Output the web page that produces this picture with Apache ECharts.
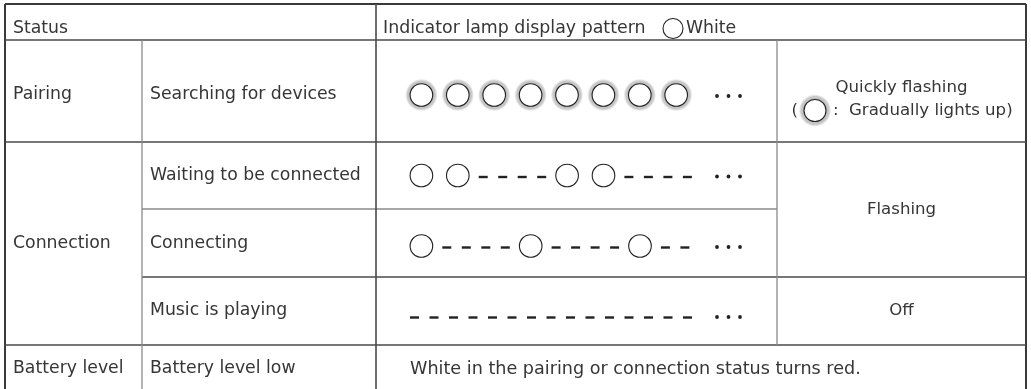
<!DOCTYPE html>
<html><head><meta charset="utf-8">
<script src="https://cdn.jsdelivr.net/npm/echarts@6/dist/echarts.min.js"></script>
<style>html,body{margin:0;padding:0;background:#fff}#c{width:1031px;height:389px}</style>
</head><body><div id="c"></div>
<script>
// ---------------- data ----------------
const headerTitles = ['Status', 'Indicator lamp display pattern', 'White'];
const groups = ['Pairing', 'Connection', 'Battery level'];
const groupRowSpans = [[1, 1], [2, 4], [5, 5]];
const states = ['Searching for devices', 'Waiting to be connected', 'Connecting', 'Music is playing', 'Battery level low'];
// G = lamp gradually lighting up, O = lamp on, - = lamp off (short interval)
const patterns = ['GGGGGGGG', 'OO----OO----', 'O----O----O--', '---------------'];
const notes = ['Quickly flashing', 'Flashing', 'Off'];
const noteRowSpans = [[1, 1], [2, 3], [4, 4]];
const gradualNote = 'Gradually lights up)';
const batteryNote = 'White in the pairing or connection status turns red.';

// ---------------- layout ----------------
const W = 1031, H = 389;
const colX = [5, 142, 376, 777, 1026];
const rowY = [4, 40, 142, 209, 277, 345, 395];
const textY = [28.5, 95, 175.5, 244, 311, 369];
const patternY = [95, 175.5, 246, 316];
// pattern axis: offsets (px-like units) from the start of the pattern area
const PAT_X0 = 403, PAT_SPAN = 300, ELLIPSIS_AT = 325.5;
const LEAD = {lamp: 18.4, dash: 11.5};
const STEP = {lamplamp: 36.4, lampdash: 25.4, dashlamp: 25.4, dashdash: 19.5};
const FONT = 'DejaVu Sans', INK = '#222', TXT = '#363636';
const LINE_STYLE = {outer: {c: '#3a3a3a', w: 2}, major: {c: '#4a4a4a', w: 1.6}, minor: {c: '#8a8a8a', w: 1.3}};

const segs = [
  [colX[0], rowY[0], colX[4], rowY[0], 'outer'],
  [colX[0], rowY[0], colX[0], rowY[6], 'outer'],
  [colX[4], rowY[0], colX[4], rowY[6], 'outer'],
  [colX[0], rowY[1], colX[4], rowY[1], 'major'],
  [colX[0], rowY[2], colX[4], rowY[2], 'major'],
  [colX[1], rowY[3], colX[3], rowY[3], 'minor'],
  [colX[1], rowY[4], colX[4], rowY[4], 'major'],
  [colX[0], rowY[5], colX[4], rowY[5], 'major'],
  [colX[1], rowY[1], colX[1], rowY[6], 'minor'],
  [colX[2], rowY[0], colX[2], rowY[6], 'major'],
  [colX[3], rowY[1], colX[3], rowY[5], 'minor']
];

const texts = [];
texts.push({t: headerTitles[0], x: colX[0] + 8, y: textY[0], a: 'left', s: 17.3});
texts.push({t: headerTitles[1], x: colX[2] + 7, y: textY[0], a: 'left', s: 17.4});
texts.push({t: headerTitles[2], x: 686, y: textY[0], a: 'left', s: 17.3});
groups.forEach((g, i) => {
  const sp = groupRowSpans[i];
  const y = sp[0] === sp[1] ? textY[sp[0]] : (rowY[sp[0]] + rowY[sp[1] + 1]) / 2;
  texts.push({t: g, x: colX[0] + 8, y: y, a: 'left', s: 17.3});
});
states.forEach((s, i) => texts.push({t: s, x: colX[1] + 8, y: textY[i + 1], a: 'left', s: 17.3}));
notes.forEach((n, i) => {
  const sp = noteRowSpans[i];
  let y = (rowY[sp[0]] + rowY[sp[1] + 1]) / 2;
  if (i === 0) y = 88;
  texts.push({t: n, x: (colX[3] + colX[4]) / 2, y: y, a: 'center', s: 16.6});
});
texts.push({t: '(', x: 798, y: 110.5, a: 'right', s: 16.6});
texts.push({t: ':', x: 833, y: 110.5, a: 'left', s: 16.6});
texts.push({t: gradualNote, x: 849, y: 110.5, a: 'left', s: 16.6});
texts.push({t: batteryNote, x: 410, y: textY[5], a: 'left', s: 17.6});

// stand-alone lamps in the legend / note
const lamps = [{x: 673, y: textY[0], r: 10, halo: false}, {x: 815, y: 110.5, r: 11, halo: true}];

function haloEl(cx, cy) {
  return {type: 'circle', shape: {cx: cx, cy: cy, r: 16},
    style: {fill: new echarts.graphic.RadialGradient(0.5, 0.5, 0.5, [
      {offset: 0, color: '#bdbdbd'}, {offset: 0.72, color: '#bdbdbd'},
      {offset: 0.88, color: '#cbcbcb'}, {offset: 1, color: 'rgba(225,225,225,0.3)'}])}};
}
function lampEl(cx, cy, r) {
  return {type: 'circle', shape: {cx: cx, cy: cy, r: r}, style: {fill: '#fff', stroke: INK, lineWidth: 1.1}};
}

const chart = echarts.init(document.getElementById('c'), null, {renderer: 'canvas'});
chart.setOption({
  animation: false,
  grid: [
    {left: 0, top: 0, width: W, height: H},
    {left: PAT_X0, top: 0, width: PAT_SPAN, height: H}
  ],
  xAxis: [
    {type: 'value', min: 0, max: W, show: false, gridIndex: 0},
    {type: 'value', min: 0, max: PAT_SPAN, show: false, gridIndex: 1}
  ],
  yAxis: [
    {type: 'value', min: 0, max: H, inverse: true, show: false, gridIndex: 0},
    {type: 'value', min: 0, max: H, inverse: true, show: false, gridIndex: 1}
  ],
  series: [
    {
      type: 'custom', xAxisIndex: 0, yAxisIndex: 0, silent: true,
      data: segs.map(s => [s[0], s[1], s[2], s[3]]),
      renderItem: (params, api) => {
        const s = segs[params.dataIndex];
        const p0 = api.coord([s[0], s[1]]), p1 = api.coord([s[2], s[3]]);
        const st = LINE_STYLE[s[4]];
        return {type: 'line', shape: {x1: p0[0], y1: p0[1], x2: p1[0], y2: p1[1]},
          style: {stroke: st.c, lineWidth: st.w}};
      }
    },
    {
      type: 'custom', xAxisIndex: 0, yAxisIndex: 0, silent: true,
      data: lamps.map(l => [l.x, l.y]),
      renderItem: (params, api) => {
        const l = lamps[params.dataIndex];
        const c = api.coord([l.x, l.y]);
        const ch = [];
        if (l.halo) ch.push(haloEl(c[0], c[1]));
        ch.push(lampEl(c[0], c[1], l.r));
        return {type: 'group', children: ch};
      }
    },
    {
      type: 'custom', xAxisIndex: 0, yAxisIndex: 0, silent: true,
      data: texts.map(t => [t.x, t.y]),
      renderItem: (params, api) => {
        const t = texts[params.dataIndex];
        const c = api.coord([t.x, t.y]);
        return {type: 'text', x: c[0], y: c[1],
          style: {text: t.t, fill: TXT, fontFamily: FONT, fontSize: t.s, align: t.a, verticalAlign: 'middle'}};
      }
    },
    {
      type: 'custom', xAxisIndex: 1, yAxisIndex: 1, silent: true,
      data: patterns.map((p, i) => [0, patternY[i]]),
      renderItem: (params, api) => {
        const r = params.dataIndex, pat = patterns[r], y = patternY[r];
        const ch = [];
        let pos = null, prev = null;
        for (const k of pat) {
          const kind = k === '-' ? 'dash' : 'lamp';
          pos = prev === null ? LEAD[kind] : pos + STEP[prev + kind];
          if (kind === 'dash') {
            const c = api.coord([pos, y + 1.5]);
            ch.push({type: 'rect', shape: {x: c[0] - 4.5, y: c[1] - 1.2, width: 9, height: 2.4}, style: {fill: INK}});
          } else {
            const c = api.coord([pos, y]);
            if (k === 'G') ch.push(haloEl(c[0], c[1]));
            ch.push(lampEl(c[0], c[1], 11.3));
          }
          prev = kind;
        }
        for (let d = -1; d <= 1; d++) {
          const c = api.coord([ELLIPSIS_AT, y + 1]);
          ch.push({type: 'circle', shape: {cx: c[0] + d * 11.5, cy: c[1], r: 1.9}, style: {fill: INK}});
        }
        return {type: 'group', children: ch};
      }
    }
  ]
});
</script></body></html>
